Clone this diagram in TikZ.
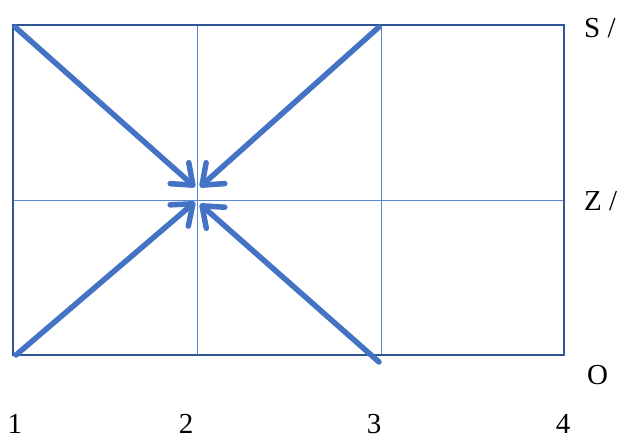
\documentclass[tikz,border=0pt]{standalone}
\usepackage{fontspec}
\setmainfont{Liberation Serif}
\usetikzlibrary{arrows.meta}
\definecolor{outerblue}{HTML}{2F5597}
\definecolor{innerblue}{HTML}{4472C4}
\definecolor{gridblue}{HTML}{5B86D0}
\begin{document}
\begin{tikzpicture}[x=1pt,y=-1pt,
  outerline/.style={draw=outerblue,line width=1.8pt},
  innerline/.style={draw=gridblue,line width=1pt},
  bigarrow/.style={draw=innerblue,line width=5.5pt,line cap=round,
    -{Straight Barb[round,length=18pt,width=28pt]}},
  lbl/.style={font=\fontsize{29}{32}\selectfont,inner sep=0pt},
  numlbl/.style={font=\fontsize{29}{32}\selectfont,inner sep=0pt}]
\useasboundingbox (0,0) rectangle (632,443);
% grid coordinates
\coordinate (TL) at (13,25);
\coordinate (BR) at (564,355);
\coordinate (V2t) at (197,25);
\coordinate (V2b) at (197,355);
\coordinate (V3t) at (381,25);
\coordinate (V3b) at (381,355);
\coordinate (Hl) at (13,201);
\coordinate (Hr) at (564,201);
% inner lines
\draw[innerline] (V2t) -- (V2b);
\draw[innerline] (V3t) -- (V3b);
\draw[innerline] (Hl) -- (Hr);
% outer rectangle
\draw[outerline] (TL) rectangle (BR);
% arrows
\coordinate (A1s) at (15,27);
\coordinate (A1e) at (195,187);
\coordinate (A2s) at (379,27);
\coordinate (A2e) at (200,187);
\coordinate (A3s) at (16,355);
\coordinate (A3e) at (195,202);
\coordinate (A4s) at (379,362);
\coordinate (A4e) at (200,204);
\draw[bigarrow] (A1s) -- (A1e);
\draw[bigarrow] (A2s) -- (A2e);
\draw[bigarrow] (A3s) -- (A3e);
\draw[bigarrow] (A4s) -- (A4e);
% labels
\node[lbl,anchor=west] (S) at (584,28) {S /};
\node[lbl,anchor=west] (Z) at (584,201) {Z /};
\node[lbl,anchor=west] (O) at (587,375) {O};
\node[numlbl] (n1) at (15,424) {1};
\node[numlbl] (n2) at (186,424) {2};
\node[numlbl] (n3) at (374,424) {3};
\node[numlbl] (n4) at (563,424) {4};
\end{tikzpicture}
\end{document}
